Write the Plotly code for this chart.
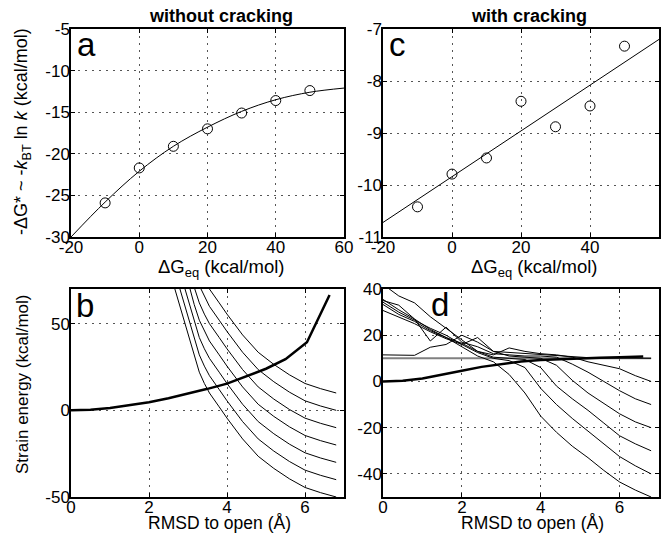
import plotly.graph_objects as go

W, H = 668, 533
FONT = "Liberation Sans, Arial, Helvetica, sans-serif"

# ---------------- panel a (without cracking) ----------------
a_x = [-10, 0, 10, 20, 30, 40, 50]
a_y = [-25.9, -21.7, -19.1, -17.0, -15.1, -13.6, -12.4]
a_fit_x = [-20, -10, 0, 10, 20, 30, 40, 50, 60]
a_fit_y = [-30.0, -25.8, -22.1, -19.1, -16.8, -14.9, -13.5, -12.6, -12.1]

# ---------------- panel c (with cracking) ----------------
c_x = [-10, 0, 10, 20, 30, 40, 50]
c_y = [-10.42, -9.79, -9.48, -8.39, -8.88, -8.48, -7.33]
c_fit_x = [-20, 60]
c_fit_y = [-10.72, -7.20]

# ---------------- panel b (strain energy, no cracking) ----------------
b_strain_x = [0, 0.5, 1, 1.5, 2, 2.5, 3, 3.5, 4, 4.5, 5, 5.5, 6.05, 6.63]
b_strain_y = [0, 0.3, 1.3, 2.8, 4.7, 7.0, 9.6, 12.4, 15.4, 19.5, 24.0, 29.5, 39.3, 66.5]
b_x = [2.65, 2.78, 2.91, 3.04, 3.16, 3.29, 3.42, 3.55, 3.8, 4.0, 4.4, 4.8, 5.2, 5.6, 6.0, 6.4, 6.8]
b_curves = [
    [71, 61, 51, 41, 31, 22, 15.5, 10, 2, -4.5, -16.5, -26.5, -33.5, -39.5, -44.5, -47.5, -50],
    [71, 61, 51, 41, 32, 25.5, 20, 12, 5.5, -6.5, -16.5, -23.5, -29.5, -34.5, -37.5, -40],
    [71, 61, 51, 42, 35.5, 30, 22, 15.5, 3.5, -6.5, -13.5, -19.5, -24.5, -27.5, -30],
    [71, 61, 52, 45.5, 40, 32, 25.5, 13.5, 3.5, -3.5, -9.5, -14.5, -17.5, -20],
    [71, 62, 55.5, 50, 42, 35.5, 23.5, 13.5, 6.5, 0.5, -4.5, -7.5, -10],
    [72, 65.5, 60, 52, 45.5, 33.5, 23.5, 16.5, 10.5, 5.5, 2.5, 0],
    [75.5, 70, 62, 55.5, 43.5, 33.5, 26.5, 20.5, 15.5, 12.5, 10],
]

# ---------------- panel d (with cracking) ----------------
d_strain_x = [0, 0.5, 1, 1.5, 2, 2.5, 3, 3.5, 4, 4.5, 5, 5.5, 6, 6.6]
d_strain_y = [0, 0.3, 1.3, 2.8, 4.6, 6.3, 7.6, 8.6, 9.3, 9.7, 10.0, 10.3, 10.5, 10.8]
d_level_x = [0, 6.8]
d_level_y = [10, 10]
d_x = [0, 0.4, 0.8, 1.2, 1.6, 2.0, 2.4, 2.8, 3.2, 3.6, 4.0, 4.4, 4.8, 5.2, 5.6, 6.0, 6.4, 6.8]
d_curves = [
    [35.5, 31, 27, 22.5, 19, 15, 11, 8.5, 3, -5, -15, -22, -28, -33, -38.5, -43.5, -47, -50],
    [34.3, 30, 26.5, 23, 20, 16, 12.5, 10, 9, 6, -3, -10, -16, -21.5, -27, -32.5, -36.5, -40],
    [33.3, 29, 26, 22, 19, 16.5, 13, 10.5, 10, 9.5, 6, -2, -7.5, -12.5, -18, -23.5, -27, -30],
    [30.7, 28, 25, 21.5, 18.5, 16, 19, 13, 11, 10.5, 10, 7, 0.5, -5, -9.5, -14, -17.5, -20],
    [35, 33, 27, 17.5, 23.5, 17, 15, 12, 11.5, 11, 11, 10.5, 7.5, 4, 0, -4, -7.5, -10],
    [42, 37, 34, 28, 23, 18, 13, 11.5, 14.5, 13, 12, 11.5, 10.5, 8.5, 7, 5.5, 2.5, 0],
    [11.5, 11.5, 11.3, 14.8, 16, 20, 17, 13, 12.5, 12, 11.5, 11, 10.5, 10.3, 10.2, 10.1, 10, 10],
]

# tick labels
a_xt = [-20, 0, 20, 40, 60]
a_yt = [-30, -25, -20, -15, -10, -5]
c_yt = [-11, -10, -9, -8, -7]
b_xt = [0, 2, 4, 6]
b_yt = [-50, 0, 50]
d_yt = [-40, -20, 0, 20, 40]


def lab(v):
    return [str(t) for t in v]


def px(x):
    return x / W


def py(y):
    return 1 - y / H


fig = go.Figure()
BL = "black"

# panel a
fig.add_trace(go.Scatter(x=a_fit_x, y=a_fit_y, mode="lines", line=dict(color=BL, width=1, shape="spline"),
                         xaxis="x", yaxis="y"))
fig.add_trace(go.Scatter(x=a_x, y=a_y, mode="markers",
                         marker=dict(symbol="circle-open", size=10, color=BL, line=dict(width=1)),
                         xaxis="x", yaxis="y"))
# panel c
fig.add_trace(go.Scatter(x=c_fit_x, y=c_fit_y, mode="lines", line=dict(color=BL, width=1),
                         xaxis="x2", yaxis="y2"))
fig.add_trace(go.Scatter(x=c_x, y=c_y, mode="markers",
                         marker=dict(symbol="circle-open", size=10, color=BL, line=dict(width=1)),
                         xaxis="x2", yaxis="y2"))
# panel b
for k, cy in enumerate(b_curves):
    fig.add_trace(go.Scatter(x=b_x[k:], y=cy, mode="lines", line=dict(color=BL, width=1),
                             xaxis="x3", yaxis="y3"))
fig.add_trace(go.Scatter(x=b_strain_x, y=b_strain_y, mode="lines", line=dict(color=BL, width=2.5),
                         xaxis="x3", yaxis="y3"))
# panel d
fig.add_trace(go.Scatter(x=d_level_x, y=d_level_y, mode="lines", line=dict(color="#808080", width=2),
                         xaxis="x4", yaxis="y4"))
for cy in d_curves:
    fig.add_trace(go.Scatter(x=d_x, y=cy, mode="lines", line=dict(color=BL, width=1),
                             xaxis="x4", yaxis="y4"))
fig.add_trace(go.Scatter(x=d_strain_x, y=d_strain_y, mode="lines", line=dict(color=BL, width=2.5),
                         xaxis="x4", yaxis="y4"))

common = dict(showline=True, linecolor=BL, linewidth=1.5, mirror="ticks", ticks="inside", ticklen=4,
              tickcolor=BL, tickwidth=1, showgrid=True, gridcolor="#555", gridwidth=1, griddash="2px,5px",
              zeroline=False, tickfont=dict(family=FONT, size=17, color=BL), fixedrange=True,
              automargin=False)
xcommon = dict(common, ticklabelstandoff=-6)
ycommon = dict(common, ticklabelstandoff=-4)

LX = [px(71), px(344)]
RX = [px(383), px(659)]
TY = [py(237), py(29)]
BY = [py(497), py(289)]

fig.update_layout(
    width=W, height=H, margin=dict(l=0, r=0, t=0, b=0, pad=0), showlegend=False,
    paper_bgcolor="white", plot_bgcolor="white",
    font=dict(family=FONT, size=17, color=BL),
    xaxis=dict(domain=LX, range=[-20, 60], tickvals=a_xt, ticktext=lab(a_xt), anchor="y", **xcommon),
    yaxis=dict(domain=TY, range=[-30, -5], tickvals=a_yt, ticktext=lab(a_yt), anchor="x", **ycommon),
    xaxis2=dict(domain=RX, range=[-20, 60], tickvals=a_xt, ticktext=lab(a_xt), anchor="y2", **xcommon),
    yaxis2=dict(domain=TY, range=[-11, -7], tickvals=c_yt, ticktext=lab(c_yt), anchor="x2", **ycommon),
    xaxis3=dict(domain=LX, range=[0, 7], tickvals=b_xt, ticktext=lab(b_xt), anchor="y3", **xcommon),
    yaxis3=dict(domain=BY, range=[-50, 70], tickvals=b_yt, ticktext=lab(b_yt), anchor="x3", **ycommon),
    xaxis4=dict(domain=RX, range=[0, 7], tickvals=b_xt, ticktext=lab(b_xt), anchor="y4", **xcommon),
    yaxis4=dict(domain=BY, range=[-50, 40], tickvals=d_yt, ticktext=lab(d_yt), anchor="x4", **ycommon),
)

ann = []


def add_text(text, x, y, size=17, angle=0, xanchor="center", bold=False):
    if bold:
        text = "<b>" + text + "</b>"
    ann.append(dict(text=text, x=px(x), y=py(y), xref="paper", yref="paper", showarrow=False,
                    xanchor=xanchor, yanchor="middle", textangle=angle,
                    font=dict(family=FONT, size=size, color=BL)))


add_text("without cracking", 221, 16, size=18, bold=True)
add_text("with cracking", 529, 16, size=18, bold=True)
add_text("ΔG<sub>eq</sub> (kcal/mol)", 221, 268, size=18.5)
add_text("ΔG<sub>eq</sub> (kcal/mol)", 534, 268, size=18.5)
add_text("RMSD to open (Å)", 219, 523, size=17.5)
add_text("RMSD to open (Å)", 532, 523, size=17.5)
add_text("-ΔG* ~ -<i>k</i><sub>BT</sub> ln <i>k</i> (kcal/mol)", 22, 132, size=18, angle=-90)
add_text("Strain energy (kcal/mol)", 22, 384, angle=-90)
add_text("a", 75, 44, size=33, xanchor="left")
add_text("c", 387, 44, size=33, xanchor="left")
add_text("b", 74, 305, size=33, xanchor="left")
add_text("d", 429, 304, size=33, xanchor="left")
fig.update_layout(annotations=ann)

fig.write_html("out.html", config={"displayModeBar": False},
               post_script="document.body.style.margin='0px';document.body.style.padding='0px';")
